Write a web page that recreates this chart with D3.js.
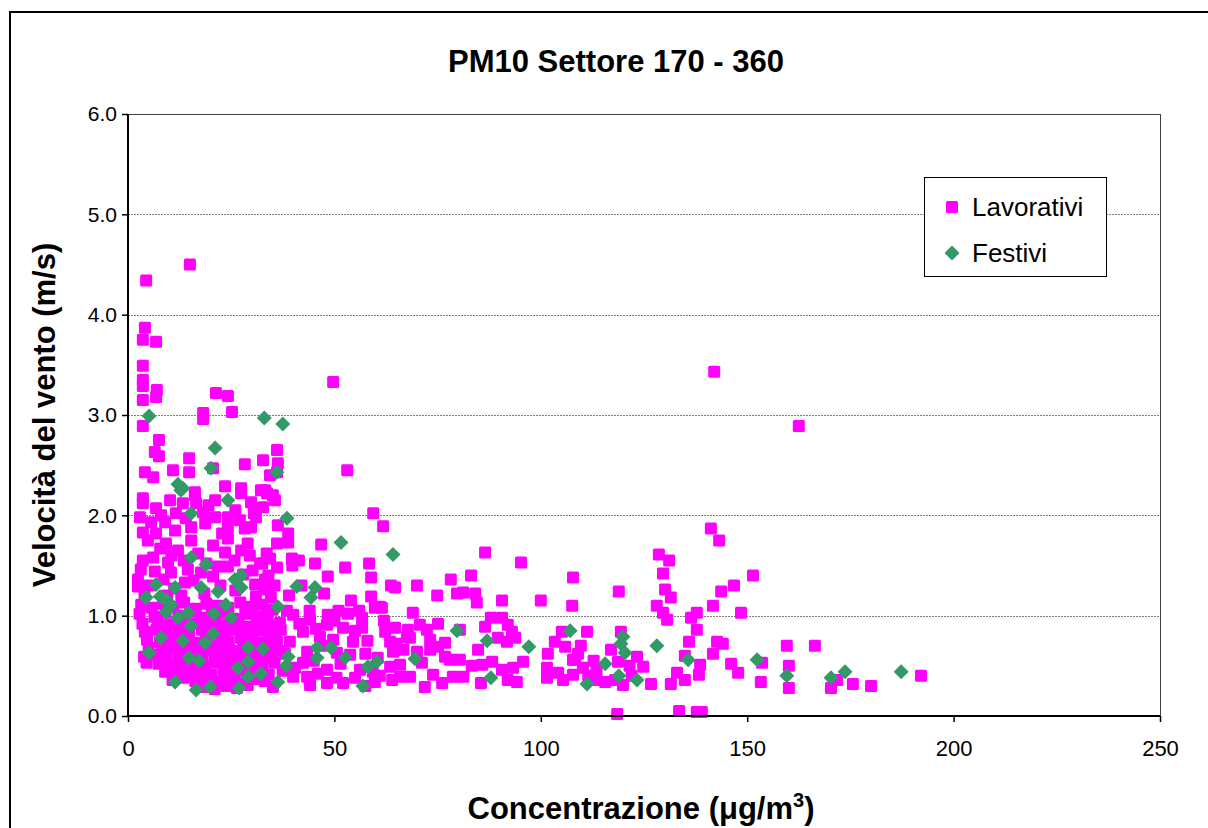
<!DOCTYPE html>
<html>
<head>
<meta charset="utf-8">
<script src="https://cdn.jsdelivr.net/npm/d3@7"></script>
<style>
  html, body { margin: 0; padding: 0; background: #ffffff; }
  svg { display: block; }
  text { font-family: Arial, "Liberation Sans", sans-serif; fill: #000; }
</style>
</head>
<body>
<svg id="chart" width="1208" height="828"></svg>
<script>
// PM10 concentration (µg/m³) vs wind speed (m/s), sector 170-360
const chartTitle = "PM10 Settore 170 - 360";
const seriesNames = ["Lavorativi", "Festivi"];
const xTicks = [0, 50, 100, 150, 200, 250];
const yTicks = [0, 1, 2, 3, 4, 5, 6];

// Working days: [concentration, wind speed]
const lavorativi = [
  [4.4,4.34],[15.0,4.50],[4.1,3.87],[3.6,3.75],[6.8,3.73],[3.6,3.49],[3.6,3.35],[3.6,3.29],[7.0,3.25],[6.8,3.18],
  [3.6,3.15],[21.3,3.22],[24.2,3.19],[18.2,3.02],[18.2,2.96],[25.2,3.03],[3.6,2.89],[49.7,3.33],[142.0,3.43],[162.5,2.89],
  [7.5,2.75],[6.5,2.63],[7.5,2.59],[14.8,2.57],[14.8,2.43],[10.9,2.45],[4.1,2.43],[6.1,2.38],[28.3,2.51],[32.7,2.55],
  [20.6,2.47],[27.4,2.27],[32.2,2.25],[23.5,2.29],[16.2,2.23],[3.6,2.17],[36.1,2.65],[36.3,2.52],[34.4,2.40],[53.1,2.45],
  [33.2,2.25],[35.1,2.20],[36.1,2.43],
  [3.6,2.12],[6.8,2.07],[10.2,2.15],[13.3,2.12],[16.2,2.20],[16.5,2.12],[21.1,2.15],[27.4,2.22],[29.8,2.13],[32.7,2.08],
  [18.2,2.03],[11.6,2.02],[5.6,1.93],[9.0,1.93],[21.1,1.98],[24.2,1.98],[27.1,1.95],[31.0,1.98],[15.3,1.88],[18.7,1.92],
  [3.6,1.83],[6.8,1.82],[11.4,1.85],[24.2,1.88],[28.3,1.87],[29.8,1.88],[15.3,1.75],[20.6,1.70],[24.2,1.77],[27.4,1.65],
  [23.5,1.63],[7.8,1.67],[12.1,1.65],[3.6,1.55],[6.1,1.58],[9.7,1.53],[21.8,1.49],[24.2,1.49],[32.0,1.52],[3.1,1.46],
  [6.5,1.44],[10.4,1.43],[14.5,1.46],[17.7,1.43],[20.6,1.39],[27.9,1.41],[2.4,1.36],[2.4,1.29],[13.8,1.33],[30.8,1.31],
  [31.0,1.19],[33.0,1.26],
  [4.8,1.75],[9.2,1.72],[13.5,1.55],[5.2,1.30],[8.6,1.36],[11.2,1.27],[15.9,1.35],[19.0,1.52],[25.8,1.55],[29.5,1.60],
  [30.2,1.45],[26.0,1.25],[22.4,1.30],[18.5,1.22],[12.9,1.20],[4.0,1.22],[9.5,1.20],[34.0,1.40],[35.5,1.30],[33.6,1.62],
  [29.0,1.72],[17.0,1.62],[14.0,1.97],[8.0,2.00],[26.0,2.05],[19.5,2.10],[30.5,2.02],[2.9,1.98],[22.8,1.82],[10.5,1.60],
  [33.7,2.22],[35.6,2.15],[36.3,1.90],[38.8,1.82],[38.8,1.73],[36.1,1.72],[46.8,1.71],[59.4,2.02],[61.8,1.89],[34.4,1.57],
  [39.7,1.57],[41.4,1.55],[45.3,1.52],[32.5,1.52],[36.1,1.48],[52.6,1.48],[58.4,1.52],[48.4,1.39],[58.9,1.38],[63.7,1.30],
  [58.9,1.19],[61.0,1.09],[33.2,1.36],[34.0,1.28],[34.6,1.18],[39.8,1.50],
  [42.0,1.30],[47.5,1.22],[51.0,1.05],[54.0,1.15],[44.0,1.05],[39.0,1.20],[56.0,1.05],
  [3.2,1.11],[5.8,1.08],[8.5,1.12],[10.9,1.09],[13.6,1.13],[16.4,1.07],[19.0,1.12],[21.7,1.10],[24.3,1.08],[27.2,1.13],
  [29.8,1.09],[32.5,1.11],[35.0,1.06],
  [2.8,1.02],[6.4,0.99],[9.1,1.03],[12.2,1.00],[15.0,1.04],[17.6,0.98],[20.3,1.01],[23.0,1.03],[25.6,0.97],[28.4,1.02],
  [31.1,0.99],[33.8,1.03],
  [3.5,0.92],[7.2,0.94],[10.0,0.91],[12.9,0.95],[15.8,0.92],[18.5,0.90],[21.2,0.94],[24.0,0.91],[26.8,0.93],[29.4,0.89],
  [32.2,0.93],[34.9,0.90],
  [4.1,0.84],[6.9,0.86],[9.6,0.83],[12.5,0.85],[14.8,0.82],[17.9,0.86],[20.8,0.84],[23.5,0.83],[26.1,0.86],[28.9,0.82],
  [31.6,0.85],[34.2,0.83],[37.0,0.86],
  [4.6,0.76],[7.7,0.74],[10.4,0.77],[13.1,0.75],[16.0,0.73],[18.8,0.77],[21.6,0.75],[24.4,0.74],[27.3,0.78],[30.0,0.75],
  [32.8,0.73],[35.6,0.77],
  [5.0,0.68],[8.2,0.66],[11.0,0.69],[13.8,0.67],[16.6,0.70],[19.4,0.66],[22.3,0.68],[25.1,0.65],[27.9,0.69],[30.7,0.66],
  [33.5,0.68],[36.4,0.65],
  [3.9,0.59],[6.6,0.61],[9.4,0.58],[12.3,0.60],[15.2,0.62],[18.0,0.59],[20.9,0.57],[23.7,0.61],[26.5,0.58],[29.3,0.60],
  [32.0,0.57],[34.7,0.61],
  [7.4,0.52],[10.2,0.50],[13.0,0.53],[15.9,0.51],[18.7,0.49],[21.5,0.53],[24.2,0.50],[27.0,0.52],[29.9,0.49],[32.6,0.51],
  [35.5,0.53],[4.5,0.53],
  [9.0,0.44],[11.8,0.42],[14.6,0.45],[17.4,0.43],[20.2,0.41],[23.1,0.44],[25.8,0.42],[28.6,0.45],[31.4,0.43],[34.1,0.41],
  [10.8,0.36],[13.5,0.38],[16.3,0.35],[19.1,0.37],[22.0,0.34],[24.8,0.36],[27.6,0.33],[30.3,0.37],[33.1,0.35],
  [18.2,0.29],[21.0,0.27],[23.8,0.30],[26.4,0.28],[29.0,0.31],
  [48.4,1.01],[53.3,1.02],[52.1,0.88],[56.7,0.98],[56.7,0.88],[59.8,1.08],[61.5,1.08],[62.3,0.84],[63.5,0.74],[64.0,0.36],
  [59.8,0.34],[52.1,0.33],[48.2,0.33],[44.1,0.31],[43.4,0.39],[35.1,0.29],[40.0,0.39],[43.4,0.64],[54.5,0.74],[53.8,0.61],
  [56.2,0.46],[59.3,0.44],[63.5,0.49],[48.2,0.46],[46.5,0.79],[48.2,0.91],[42.4,0.84],[44.1,0.96],[40.0,1.01],[36.8,0.93],
  [33.7,0.96],[36.1,0.74],[39.2,0.74],[34.4,0.58],[42.4,0.53],[49.7,0.76],[50.6,0.63],[64.2,0.64],
  [38.0,0.62],[40.5,0.48],[45.0,0.55],[47.0,0.70],[51.5,0.52],[55.0,0.85],[57.5,0.62],[60.5,0.58],[62.0,0.95],[38.5,1.05],
  [41.5,0.92],[45.5,0.87],[50.0,0.95],[58.0,0.75],[61.0,0.40],[46.0,0.42],[37.5,0.45],[55.0,0.38],[57.5,0.30],[50.5,0.38],
  [86.5,1.63],[95.2,1.53],[64.7,1.28],[70.0,1.30],[78.2,1.36],[83.1,1.40],[74.9,1.20],[79.7,1.22],[81.2,1.23],[84.1,1.22],
  [84.5,1.13],[90.6,1.15],[100.0,1.15],[107.8,1.38],[107.6,1.10],[69.0,1.03],
  [64.7,0.88],[67.8,0.86],[70.7,0.91],[72.4,0.86],[75.1,0.92],[67.6,0.79],[76.8,0.73],[80.4,0.86],[86.5,0.89],[87.9,0.98],
  [90.6,0.98],[92.0,0.91],[93.0,0.84],[89.6,0.78],[91.8,0.74],[93.8,0.78],[105.1,0.84],[103.4,0.74],[105.9,0.69],[101.7,0.62],
  [107.8,0.56],[64.7,0.66],[66.7,0.66],[70.0,0.64],[73.2,0.66],[75.1,0.69],[76.8,0.59],[78.0,0.56],[80.4,0.56],[84.8,0.66],
  [88.2,0.54],[85.8,0.51],[83.3,0.50],[90.6,0.46],[93.3,0.48],[95.7,0.54],[81.2,0.39],[85.5,0.33],[92.0,0.36],[94.2,0.34],
  [101.5,0.48],[101.5,0.38],[104.2,0.43],[105.4,0.36],[107.8,0.41],[65.9,0.39],[68.3,0.39],[71.9,0.29],[76.1,0.33],[78.7,0.39],
  [73.9,0.41],[65.9,0.51],[71.2,0.53],[68.3,0.78],[73.2,0.76],[65.2,0.72],
  [141.2,1.87],[143.2,1.75],[128.6,1.61],[131.1,1.55],[129.6,1.42],[151.4,1.40],[146.8,1.30],[143.7,1.24],[118.9,1.24],[130.1,1.26],
  [131.5,1.18],[128.1,1.10],[141.7,1.10],[129.6,1.03],[137.8,1.03],[148.5,1.03],[130.6,0.96],[136.4,0.98],[137.8,0.86],[111.2,0.84],
  [119.4,0.84],[135.9,0.74],[142.7,0.74],[144.1,0.72],[109.7,0.70],[117.0,0.66],[141.7,0.62],[134.9,0.60],[123.3,0.59],[108.3,0.56],
  [118.7,0.54],[124.8,0.49],[110.2,0.48],[138.6,0.51],[146.1,0.52],[147.8,0.43],[133.0,0.43],[134.9,0.36],[138.3,0.41],[113.1,0.36],
  [115.6,0.34],[118.0,0.36],[119.9,0.31],[126.7,0.32],[131.5,0.32],[153.3,0.34],[118.5,0.02],[133.5,0.05],[137.8,0.04],[139.0,0.04],
  [109.0,0.62],[111.5,0.40],[113.5,0.45],[122.0,0.40],[121.5,0.50],[112.8,0.55],
  [159.6,0.70],[166.4,0.70],[153.6,0.53],[160.1,0.50],[160.1,0.28],[171.8,0.36],[170.3,0.28],[175.6,0.32],[180.0,0.30],[192.1,0.40]
];

// Holidays: [concentration, wind speed]
const festivi = [
  [5.1,2.99],[21.1,2.67],[20.1,2.47],[33.0,2.97],[37.5,2.91],[36.1,2.43],[12.1,2.31],[13.3,2.27],[12.8,2.25],[24.2,2.15],
  [15.3,2.02],[15.3,1.58],[18.9,1.51],[27.4,1.40],[25.9,1.36],[27.4,1.28],[6.8,1.31],[11.4,1.28],[17.7,1.28],[21.8,1.24],
  [4.4,1.18],[7.8,1.19],[9.2,1.16],[10.4,1.11],[23.7,1.11],[38.5,1.97],[51.6,1.73],[64.2,1.61],[40.9,1.29],[45.3,1.28],
  [44.3,1.18],[36.3,1.09],
  [9.2,1.04],[12.1,0.98],[14.5,1.03],[15.3,0.90],[20.8,1.02],[25.0,0.98],[8.0,0.78],[13.3,0.75],[20.6,0.82],[18.7,0.73],
  [5.1,0.63],[14.8,0.58],[17.2,0.55],[29.1,0.68],[32.7,0.67],[29.1,0.54],[26.6,0.48],[29.1,0.39],[32.2,0.42],[11.4,0.34],
  [16.5,0.26],[19.9,0.29],[26.9,0.28],
  [38.8,0.59],[38.3,0.50],[36.3,0.34],[45.8,0.68],[49.2,0.68],[45.8,0.58],[52.6,0.58],[58.1,0.49],[60.3,0.54],[56.9,0.30],
  [79.7,0.85],[87.0,0.75],[97.1,0.69],[69.5,0.57],[87.9,0.38],[107.1,0.85],
  [119.9,0.79],[119.4,0.72],[120.4,0.63],[128.1,0.70],[115.6,0.52],[135.7,0.56],[152.4,0.56],[118.9,0.40],[123.3,0.36],[111.2,0.32],
  [159.6,0.40],[170.3,0.38],[173.7,0.44],[187.3,0.44]
];

const colLav = "#ff00ff";
const colFest = "#339966";

const svg = d3.select("#chart");
const W = 1208, H = 828;
const plot = { left: 128, right: 1160, top: 114, bottom: 716 };

const x = d3.scaleLinear().domain([0, 250]).range([plot.left, plot.right]);
const y = d3.scaleLinear().domain([0, 6]).range([plot.bottom, plot.top]);

svg.append("rect").attr("width", W).attr("height", H).attr("fill", "#fff");

// outer chart frame (extends past the right/bottom edges)
svg.append("rect")
  .attr("x", 10).attr("y", 12)
  .attr("width", W + 20).attr("height", H + 20)
  .attr("fill", "none").attr("stroke", "#000").attr("stroke-width", 2);

// horizontal gridlines
svg.append("g").selectAll("line")
  .data(yTicks.filter(d => d > 0 && d < 6))
  .join("line")
  .attr("x1", plot.left).attr("x2", plot.right)
  .attr("y1", d => Math.round(y(d)) + 0.5).attr("y2", d => Math.round(y(d)) + 0.5)
  .attr("stroke", "#808080").attr("stroke-width", 1).attr("stroke-dasharray", "2,1");

// plot area border
svg.append("rect")
  .attr("x", plot.left + 0.5).attr("y", plot.top + 0.5)
  .attr("width", plot.right - plot.left).attr("height", plot.bottom - plot.top)
  .attr("fill", "none").attr("stroke", "#404040").attr("stroke-width", 1);

// markers
const sq = 12;
svg.append("g").selectAll("rect")
  .data(lavorativi)
  .join("rect")
  .attr("x", d => x(d[0]) - sq / 2).attr("y", d => y(d[1]) - sq / 2)
  .attr("width", sq).attr("height", sq).attr("rx", 1.5)
  .attr("fill", colLav);

const dm = 7.5;
const diamond = `M0,${-dm}L${dm},0L0,${dm}L${-dm},0Z`;
svg.append("g").selectAll("path")
  .data(festivi)
  .join("path")
  .attr("transform", d => `translate(${x(d[0])},${y(d[1])})`)
  .attr("d", diamond)
  .attr("fill", colFest);

// axes
const xAxis = d3.axisBottom(x).tickValues(xTicks).tickFormat(d3.format("d")).tickSize(6).tickPadding(18);
const yAxis = d3.axisLeft(y).tickValues(yTicks).tickFormat(d3.format(".1f")).tickSize(6).tickPadding(5);

const gx = svg.append("g").attr("transform", `translate(0,${plot.bottom})`).call(xAxis);
const gy = svg.append("g").attr("transform", `translate(${plot.left},0)`).call(yAxis);
[gx, gy].forEach(g => {
  g.select(".domain").attr("stroke", "#000").attr("stroke-width", 2);
  g.selectAll(".tick line").attr("stroke", "#000").attr("stroke-width", 1.5);
  g.selectAll(".tick text").attr("font-size", 21).attr("font-family", "Arial, 'Liberation Sans', sans-serif").attr("fill", "#000");
});
gx.selectAll(".tick text").attr("font-size", 22);
gx.select(".domain").attr("d", `M${plot.left},0H${plot.right}`);
gy.select(".domain").attr("d", `M0,${plot.top}V${plot.bottom}`);

// title
svg.append("text")
  .attr("x", 616).attr("y", 72)
  .attr("text-anchor", "middle")
  .attr("font-size", 31).attr("font-weight", "bold")
  .text(chartTitle);

// y axis title
svg.append("text")
  .attr("transform", "translate(55,415) rotate(-90)")
  .attr("text-anchor", "middle")
  .attr("font-size", 31).attr("font-weight", "bold")
  .text("Velocità del vento (m/s)");

// x axis title
const xt = svg.append("text")
  .attr("x", 641).attr("y", 819)
  .attr("text-anchor", "middle")
  .attr("font-size", 31).attr("font-weight", "bold");
xt.append("tspan").text("Concentrazione (μg/m");
xt.append("tspan").attr("font-size", 20).attr("dy", -12).text("3");
xt.append("tspan").attr("dy", 12).text(")");

// legend
const lg = svg.append("g");
lg.append("rect")
  .attr("x", 924.5).attr("y", 177.5).attr("width", 182).attr("height", 99)
  .attr("fill", "#fff").attr("stroke", "#000").attr("stroke-width", 1);
lg.append("rect")
  .attr("x", 952 - sq / 2).attr("y", 207 - sq / 2).attr("width", sq).attr("height", sq).attr("rx", 1.5)
  .attr("fill", colLav);
lg.append("path")
  .attr("transform", "translate(952,253)").attr("d", diamond).attr("fill", colFest);
lg.append("text").attr("x", 972).attr("y", 216).attr("font-size", 26).text(seriesNames[0]);
lg.append("text").attr("x", 972).attr("y", 262).attr("font-size", 26).text(seriesNames[1]);
</script>
</body>
</html>
